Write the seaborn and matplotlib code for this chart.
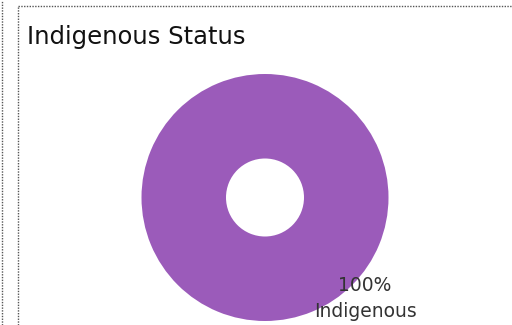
import matplotlib
matplotlib.use("Agg")
import matplotlib.pyplot as plt
from matplotlib.lines import Line2D
import seaborn as sns

categories = ["Indigenous"]
values = [100]
title = "Indigenous Status"
colors = ["#9B5BBA"]

sns.set_theme(style="white")
plt.rcParams['font.family'] = ['DejaVu Sans']

W, H = 512, 325
fig = plt.figure(figsize=(W / 100, H / 100), dpi=100)
fig.patch.set_facecolor("white")

cx, cy, r = 265, 197.5, 123.5
ax = fig.add_axes([(cx - r) / W, (H - cy - r) / H, 2 * r / W, 2 * r / H])

wedges, _ = ax.pie(values, colors=colors, radius=1, startangle=90, counterclock=False,
                   wedgeprops=dict(width=1 - 39 / 123.5, linewidth=0))
ax.set_xlim(-1, 1)
ax.set_ylim(-1, 1)
ax.set_aspect("equal")
ax.axis("off")

total = sum(values)
for cat, v in zip(categories, values):
    ax.text(0.81, -0.757, f"{v / total * 100:.0f}%", ha="center", va="baseline",
            fontsize=13.5, color="#333333", clip_on=False, zorder=5)
    ax.text(0.81, -0.968, cat, ha="center", va="baseline",
            fontsize=13.5, color="#333333", clip_on=False, zorder=5)

fig.text(27 / W, 1 - 44 / H, title, ha="left", va="baseline", fontsize=17.5, color="#111111")

dot = dict(color="#555555", linewidth=1, linestyle=(0, (1, 1)))
fig.add_artist(Line2D([1.5 / W, 1.5 / W], [0, 1], transform=fig.transFigure, **dot))
fig.add_artist(Line2D([17.5 / W, 17.5 / W], [0, 1 - 5.5 / H], transform=fig.transFigure, **dot))
fig.add_artist(Line2D([17.5 / W, 1], [1 - 5.5 / H, 1 - 5.5 / H], transform=fig.transFigure, **dot))

fig.savefig("out.png", dpi=100, facecolor="white")
